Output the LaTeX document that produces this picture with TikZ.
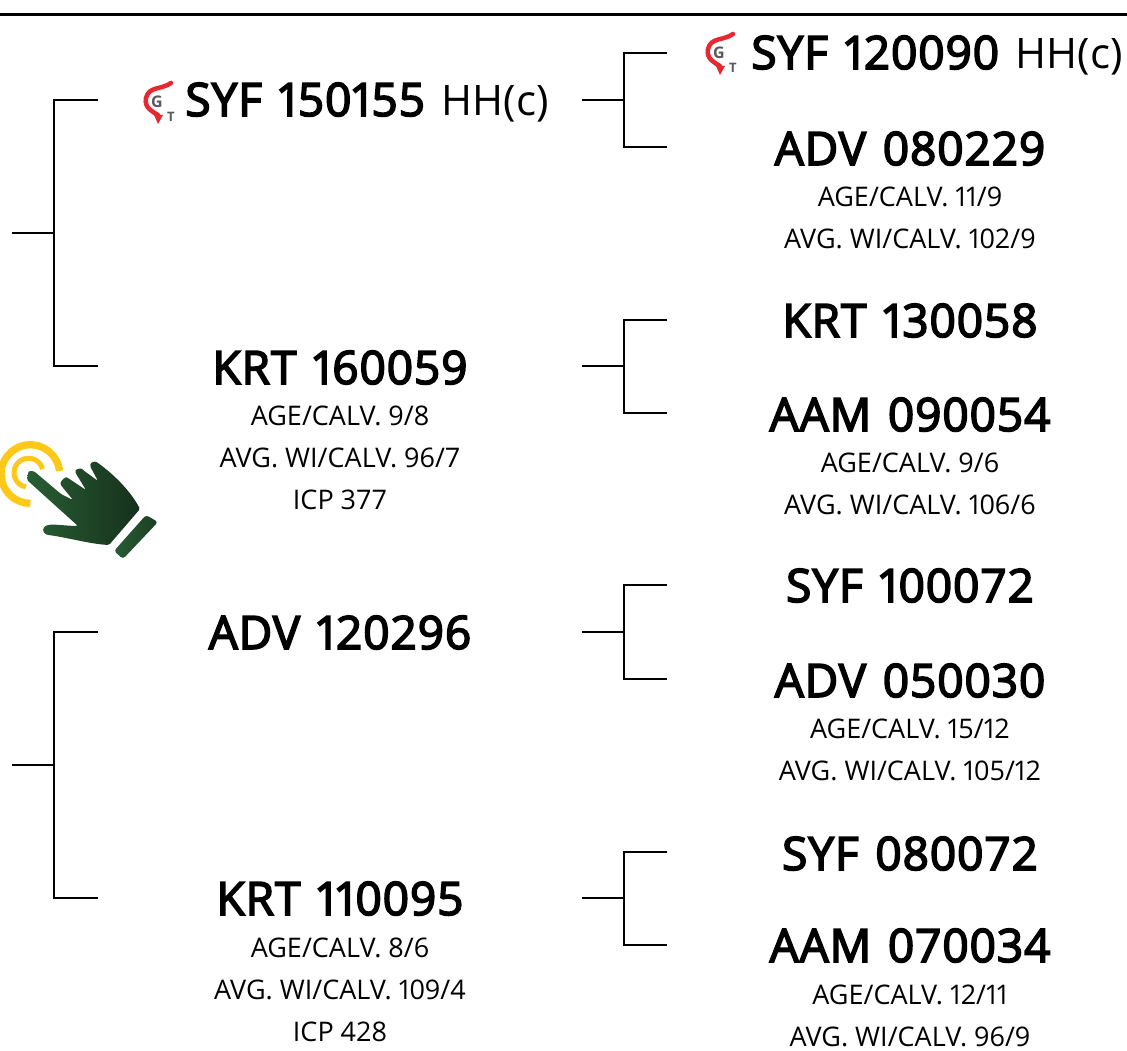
\documentclass[tikz,border=0pt]{standalone}
\usepackage{fontspec}
\setmainfont[Numbers=Proportional]{Open Sans}
\newfontfamily\bullfont[Numbers=Proportional,LetterSpace=2,WordSpace=1.3,FakeBold=3.5]{Open Sans}
\newfontfamily\lightfont[Numbers=Proportional]{Open Sans}
\definecolor{ringgold}{RGB}{253,200,24}
\definecolor{handlight}{RGB}{41,94,52}
\definecolor{handdark}{RGB}{22,48,28}
\definecolor{logored}{RGB}{232,40,48}
\tikzset{
    bull/.style={anchor=base, font=\fontsize{46}{46}\selectfont\bullfont, inner sep=0pt},
    info/.style={anchor=center, align=center, font=\fontsize{27}{42}\selectfont, inner sep=0pt},
    link/.style={draw=black, line width=1.6pt},
    gtlogo/.pic={
        \draw[logored, line width=4.5pt, line cap=round] (14,-19) .. controls (4,-12) and (-8,-16) .. (-11,-4) .. controls (-13,6) and (-4,10) .. (1,13);
        \fill[logored] (-3,13) -- (6,13) -- (1,22) -- cycle;
        \node[font=\fontsize{16}{16}\selectfont\bfseries, text=black!65, inner sep=0pt] (-g) at (0,0) {G};
        \node[font=\fontsize{13}{13}\selectfont\bfseries, text=black!65, inner sep=0pt] (-t) at (14,15) {T};
    }
}
\begin{document}
\begin{tikzpicture}[x=1pt, y=-1pt]
    \useasboundingbox (0,0) rectangle (1127,1051);
    \draw[line width=3pt] (0,15) coordinate (ruleL) -- (1127,15) coordinate (ruleR);

    % first column
    \node[bull] (sire) at (367,116) {SYF 150155 \fontsize{42}{42}\selectfont\lightfont HH(c)};
    \node[bull] (dam) at (340,384) {KRT 160059};
    \node[info] (damInfo) at (340,458) {AGE/CALV. 9/8\\AVG. WI/CALV. 96/7\\ICP 377};
    \node[bull] (sireB) at (340,649) {ADV 120296};
    \node[bull] (damB) at (340,915) {KRT 110095};
    \node[info] (damBInfo) at (340,990) {AGE/CALV. 8/6\\AVG. WI/CALV. 109/4\\ICP 428};

    % second column
    \node[bull] (ss) at (937,69) {SYF 120090 \fontsize{42}{42}\selectfont\lightfont HH(c)};
    \node[bull] (sd) at (910,165) {ADV 080229};
    \node[info] (sdInfo) at (910,218) {AGE/CALV. 11/9\\AVG. WI/CALV. 102/9};
    \node[bull] (ds) at (910,337) {KRT 130058};
    \node[bull] (dd) at (910,431) {AAM 090054};
    \node[info] (ddInfo) at (910,484) {AGE/CALV. 9/6\\AVG. WI/CALV. 106/6};
    \node[bull] (bs) at (910,602) {SYF 100072};
    \node[bull] (bd) at (910,697) {ADV 050030};
    \node[info] (bdInfo) at (910,750) {AGE/CALV. 15/12\\AVG. WI/CALV. 105/12};
    \node[bull] (cs) at (910,870) {SYF 080072};
    \node[bull] (cd) at (910,962) {AAM 070034};
    \node[info] (cdInfo) at (910,1016) {AGE/CALV. 12/11\\AVG. WI/CALV. 96/9};

    % brackets
    \foreach \nm/\xa/\xb/\xc/\ya/\ym/\yb in {
        a/12/54/98/100/233/366,
        b/12/54/98/632/765/898,
        c/582/624/667/53/100/147,
        d/582/624/667/320/366/413,
        e/582/624/667/585/632/679,
        f/582/624/667/852/898/945}{
        \coordinate (\nm In) at (\xa,\ym);
        \coordinate (\nm Mid) at (\xb,\ym);
        \coordinate (\nm Up) at (\xc,\ya);
        \coordinate (\nm Down) at (\xc,\yb);
        \draw[link] (\nm In) -- (\nm Mid);
        \draw[link] (\nm Up) -| (\nm Mid) |- (\nm Down);
    }

    % logos
    \pic (logoA) at (157,102) {gtlogo};
    \pic (logoB) at (719,53) {gtlogo};

    % hand
    \draw[ringgold, line width=7.3pt] (59.5,471) arc[start angle=-6, end angle=-270, radius=29.3];
    \draw[ringgold, line width=5pt] (42.5,469) arc[start angle=-15, end angle=-260, radius=14.5];
    \shade[left color=handlight, right color=handdark, rounded corners=1.5pt]
        (28,473) .. controls (29,471) and (33,471) .. (35,472) -- (61,494) -- (73,500)
        -- (60,484) .. controls (62,479) and (66,477) .. (68,478) -- (86,490)
        -- (75,472) .. controls (76,469) and (81,468) .. (83,470) -- (98,481)
        -- (90,466) .. controls (91,462) and (95,461) .. (98,463)
        .. controls (113,474) and (130,490) .. (140,509)
        -- (109,545) .. controls (90,544) and (65,537) .. (48,535)
        .. controls (42,533) and (42,527) .. (48,525) .. controls (55,524) and (68,526) .. (78,526)
        -- (27,480) -- cycle;
    \shade[left color=handlight, right color=handdark!70!handlight, rounded corners=3pt]
        (146,515) -- (158,522) -- (123,559) -- (114,551) -- cycle;
\end{tikzpicture}
\end{document}
